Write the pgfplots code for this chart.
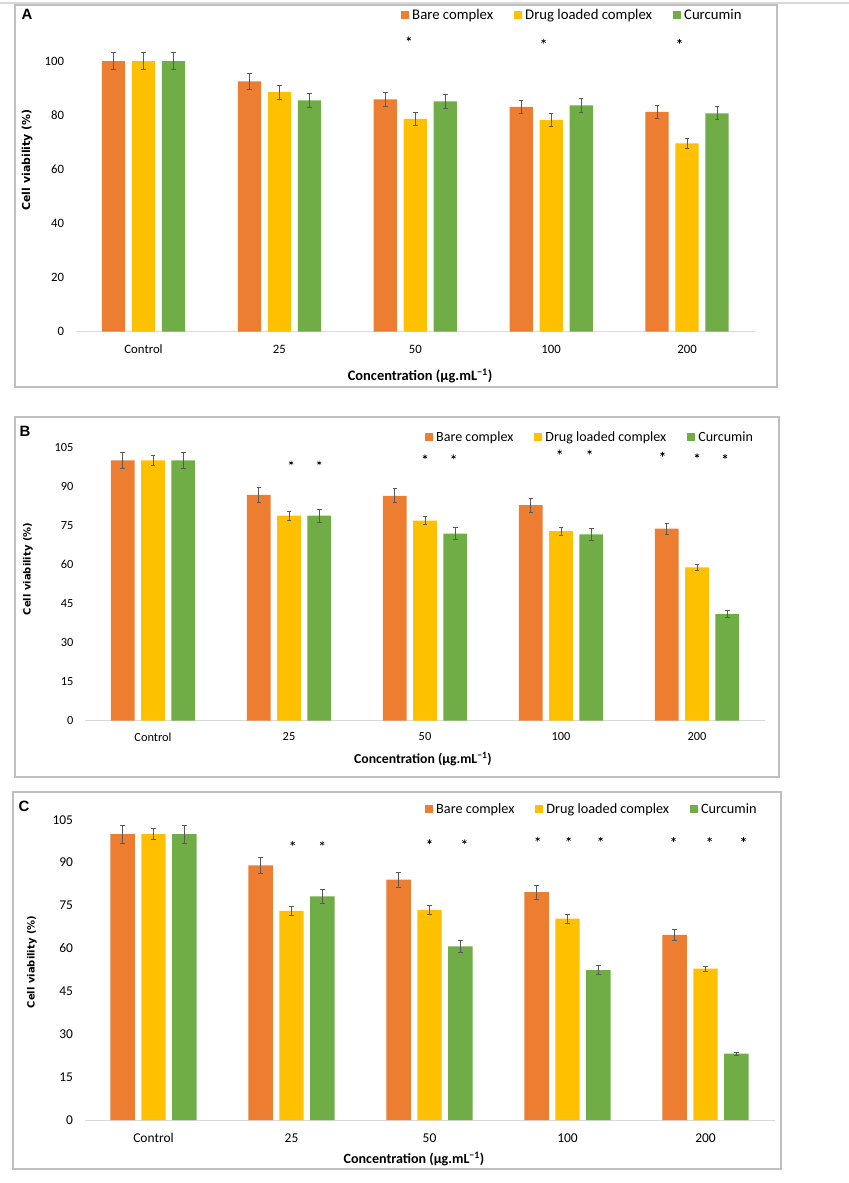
\documentclass[border=0pt]{standalone}
\usepackage{fontspec}
\setmainfont{Carlito}
\newfontfamily\ylabfont{DejaVu Sans}
\newfontfamily\letterfont{Liberation Sans}
\usepackage{pgfplots}
\pgfplotsset{compat=1.18}
\definecolor{cOr}{HTML}{ED7D31}
\definecolor{cYe}{HTML}{FFC000}
\definecolor{cGr}{HTML}{70AD47}
\definecolor{cErr}{HTML}{595959}
\definecolor{cFrame}{HTML}{BFBFBF}
\definecolor{cAxis}{HTML}{D9D9D9}
\pgfplotsset{
  panel/.style={
    scale only axis, anchor=south west,
    xmin=-0.5, xmax=4.5, ymin=0,
    axis lines=left, axis line style={-},
    y axis line style={draw=none},
    x axis line style={draw=cAxis, line width=1bp},
    major tick length=0pt,
    xtick={0,1,2,3,4}, xticklabels={Control,25,50,100,200},
    /pgf/number format/assume math mode=true,
    xticklabel style={anchor=center},
    yticklabel style={anchor=east, xshift=-8bp},
    legend columns=3,
    legend cell align=left,
    legend image code/.code={\fill[##1] (0bp,-4bp) rectangle (8bp,4bp);},
    legend style={draw=none, fill=none, inner sep=0pt, anchor=west,
      /tikz/every even column/.append style={column sep=18bp},
      nodes={inner xsep=3bp}},
    xlabel={Concentration (µg.mL\textsuperscript{−1})},
    ylabel={Cell viability (\%)},
    error bars/error bar style={cErr, line width=0.7bp},
    error bars/error mark options={cErr, line width=0.7bp, mark size=2.2bp, rotate=90},
  },
  eb/.style={error bars/.cd, y dir=both, y explicit},
  ast/.style={only marks, mark=asterisk, mark size=2.4bp, black, mark options={line width=0.6bp}, forget plot},
}
\begin{document}
\begin{tikzpicture}
\useasboundingbox (0,0) rectangle (849bp,-1183bp);
\draw[draw=cAxis, line width=2bp] (0bp,-2.5bp) -- (849bp,-2.5bp);
% frames
\draw[cFrame, line width=1.2bp] (15bp,-5bp) rectangle (777bp,-387bp);
\draw[cFrame, line width=1.2bp] (15bp,-417bp) rectangle (779bp,-777bp);
\draw[cFrame, line width=1.2bp] (13bp,-792bp) rectangle (781bp,-1169bp);
\node[font=\letterfont\bfseries\fontsize{15}{17}\selectfont] at (27bp,-14bp) {A};
\node[font=\letterfont\bfseries\fontsize{15}{17}\selectfont] at (25bp,-431bp) {B};
\node[font=\letterfont\bfseries\fontsize{15}{17}\selectfont] at (24bp,-806bp) {C};

% ---------------- Panel A
\begin{axis}[panel, at={(75.6bp,-331.7bp)}, width=679.4bp, height=319.4bp,
  ymax=118, ytick={0,20,40,60,80,100},
  tick label style={font=\fontsize{12.8}{14}\selectfont},
  xticklabel style={yshift=-17.3bp},
  legend style={at={(0.479,0.9906)}, font=\fontsize{14.8}{16}\selectfont},
  xlabel style={at={(0.507,-0.1387)}, anchor=center, font=\bfseries\fontsize{14.5}{16}\selectfont},
  ylabel style={at={(-0.0715,0.5376)}, anchor=center, font=\ylabfont\bfseries\fontsize{11}{13}\selectfont}]
\addplot[ybar, bar width=23.3bp, bar shift=0bp, fill=cOr, draw=none, eb] coordinates {
 (-0.2208,100) +- (0,3.1) (0.7792,92.5) +- (0,2.8) (1.7792,85.8) +- (0,2.7) (2.7792,83.1) +- (0,2.5) (3.7792,81.2) +- (0,2.3)};
\addlegendentry{Bare complex}
\addplot[ybar, bar width=23.3bp, bar shift=0bp, fill=cYe, draw=none, eb] coordinates {
 (0,100) +- (0,3.1) (1,88.5) +- (0,2.6) (2,78.6) +- (0,2.3) (3,78.2) +- (0,2.3) (4,69.6) +- (0,2.0)};
\addlegendentry{Drug loaded complex}
\addplot[ybar, bar width=23.3bp, bar shift=0bp, fill=cGr, draw=none, eb] coordinates {
 (0.2208,100) +- (0,3.1) (1.2208,85.5) +- (0,2.6) (2.2208,85.1) +- (0,2.7) (3.2208,83.6) +- (0,2.7) (4.2208,80.7) +- (0,2.4)};
\addlegendentry{Curcumin}
\addplot[ast] coordinates {(1.952,108.2) (2.944,107.3) (3.944,107.3)};
\end{axis}

% ---------------- Panel B
\begin{axis}[panel, at={(85bp,-720.6bp)}, width=680bp, height=299.2bp,
  ymax=115, ytick={0,15,30,45,60,75,90,105},
  tick label style={font=\fontsize{12.4}{14}\selectfont},
  xticklabel style={yshift=-16.4bp},
  legend style={at={(0.5,0.948)}, font=\fontsize{14.1}{16}\selectfont},
  xlabel style={at={(0.497,-0.1283)}, anchor=center, font=\bfseries\fontsize{13.8}{16}\selectfont},
  ylabel style={at={(-0.0838,0.5067)}, anchor=center, font=\ylabfont\bfseries\fontsize{10}{12}\selectfont}]
\addplot[ybar, bar width=23.8bp, bar shift=0bp, fill=cOr, draw=none, eb] coordinates {
 (-0.2228,100) +- (0,3.1) (0.7772,86.8) +- (0,2.8) (1.7772,86.4) +- (0,2.7) (2.7772,82.8) +- (0,2.6) (3.7772,73.8) +- (0,2.2)};
\addlegendentry{Bare complex}
\addplot[ybar, bar width=23.8bp, bar shift=0bp, fill=cYe, draw=none, eb] coordinates {
 (0,100) +- (0,2.0) (1,78.8) +- (0,1.7) (2,76.9) +- (0,1.6) (3,72.8) +- (0,1.5) (4,58.9) +- (0,1.2)};
\addlegendentry{Drug loaded complex}
\addplot[ybar, bar width=23.8bp, bar shift=0bp, fill=cGr, draw=none, eb] coordinates {
 (0.2228,100) +- (0,3.1) (1.2228,78.8) +- (0,2.5) (2.2228,71.9) +- (0,2.3) (3.2228,71.6) +- (0,2.2) (4.2228,40.9) +- (0,1.3)};
\addlegendentry{Curcumin}
\addplot[ast] coordinates {(1.016,99.0) (1.222,99.0) (2.0,101.4) (2.21,101.4) (2.99,103.2) (3.21,103.2) (3.746,102.4) (4.0,101.8) (4.206,101.5)};
\end{axis}

% ---------------- Panel C
\begin{axis}[panel, at={(84.5bp,-1120bp)}, width=690bp, height=320.3bp,
  ymax=112, ytick={0,15,30,45,60,75,90,105},
  tick label style={font=\fontsize{13.5}{15}\selectfont},
  xticklabel style={yshift=-17.7bp},
  legend style={at={(0.4935,0.971)}, font=\fontsize{14.3}{16}\selectfont},
  xlabel style={at={(0.4775,-0.1218)}, anchor=center, font=\bfseries\fontsize{14.1}{16}\selectfont},
  ylabel style={at={(-0.0761,0.4933)}, anchor=center, font=\ylabfont\bfseries\fontsize{10}{12}\selectfont}]
\addplot[ybar, bar width=24.4bp, bar shift=0bp, fill=cOr, draw=none, eb] coordinates {
 (-0.2239,100) +- (0,3.1) (0.7761,89.0) +- (0,2.7) (1.7761,84.1) +- (0,2.6) (2.7761,79.7) +- (0,2.4) (3.7761,64.7) +- (0,2.0)};
\addlegendentry{Bare complex}
\addplot[ybar, bar width=24.4bp, bar shift=0bp, fill=cYe, draw=none, eb] coordinates {
 (0,100) +- (0,2.0) (1,73.1) +- (0,1.6) (2,73.5) +- (0,1.5) (3,70.4) +- (0,1.5) (4,52.9) +- (0,0.9)};
\addlegendentry{Drug loaded complex}
\addplot[ybar, bar width=24.4bp, bar shift=0bp, fill=cGr, draw=none, eb] coordinates {
 (0.2239,100) +- (0,3.1) (1.2239,78.2) +- (0,2.5) (2.2239,60.7) +- (0,2.0) (3.2239,52.4) +- (0,1.6) (4.2239,23.2) +- (0,0.6)};
\addlegendentry{Curcumin}
\addplot[ast] coordinates {(1.008,96.7) (1.222,96.7) (2.0,97.3) (2.253,97.3) (2.784,98.2) (3.008,98.2) (3.24,98.2) (3.768,98.1) (4.03,98.1) (4.275,98.1)};
\end{axis}
\end{tikzpicture}
\end{document}
